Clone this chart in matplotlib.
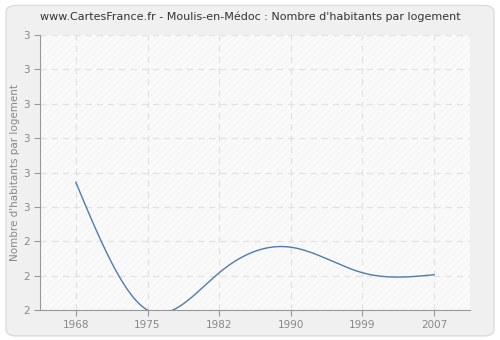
import matplotlib
matplotlib.use("Agg")
import matplotlib.pyplot as plt
from matplotlib.patches import FancyBboxPatch, Rectangle
import numpy as np

# Values
years = ["1968", "1975", "1982", "1990", "1999", "2007"]
habitants = [2.65, 2.0, 2.19, 2.32, 2.19, 2.18]
y_ticks = [2.0, 2.175, 2.35, 2.525, 2.7, 2.875, 3.05, 3.225, 3.4]

title = "www.CartesFrance.fr - Moulis-en-Médoc : Nombre d'habitants par logement"
ylabel = "Nombre d'habitants par logement"


def natural_spline(x, y, n=400):
    # smooth curve through the points (natural cubic spline)
    x = np.asarray(x, float)
    y = np.asarray(y, float)
    k = len(x)
    h = np.diff(x)
    A = np.zeros((k, k))
    b = np.zeros(k)
    A[0, 0] = A[-1, -1] = 1
    for i in range(1, k - 1):
        A[i, i - 1] = h[i - 1]
        A[i, i] = 2 * (h[i - 1] + h[i])
        A[i, i + 1] = h[i]
        b[i] = 6 * ((y[i + 1] - y[i]) / h[i] - (y[i] - y[i - 1]) / h[i - 1])
    M = np.linalg.solve(A, b)
    xs = np.linspace(x[0], x[-1], n)
    idx = np.clip(np.searchsorted(x, xs) - 1, 0, k - 2)
    x0, x1 = x[idx], x[idx + 1]
    hh = x1 - x0
    t0, t1 = x1 - xs, xs - x0
    ys = (M[idx] * t0 ** 3 + M[idx + 1] * t1 ** 3) / (6 * hh) \
        + (y[idx] / hh - M[idx] * hh / 6) * t0 \
        + (y[idx + 1] / hh - M[idx + 1] * hh / 6) * t1
    return xs, ys


plt.rcParams['hatch.linewidth'] = 0.4
fig = plt.figure(figsize=(5, 3.4), dpi=100, facecolor='white')

# outer rounded frame
frame = FancyBboxPatch((0.012, 0.012), 0.976, 0.972, boxstyle="round,pad=0,rounding_size=0.02",
                       transform=fig.transFigure, facecolor='#f0f0f0', edgecolor='#dcdcdc',
                       linewidth=1, zorder=-5)
fig.patches.append(frame)

ax = fig.add_axes([0.08, 0.088, 0.86, 0.809])
ax.set_zorder(2)
ax.set_facecolor('#fafafa')
ax.add_patch(Rectangle((0, 0), 1, 1, transform=ax.transAxes, facecolor='none',
                       edgecolor='#efefef', hatch='/////', linewidth=0, zorder=0))

x = np.arange(len(years))
xs, ys = natural_spline(x, habitants)
ax.plot(xs, ys, color='#4f7cac', linewidth=1, zorder=3, clip_on=True)

ax.set_xlim(-0.5, len(years) - 0.5)
ax.set_ylim(y_ticks[0], y_ticks[-1])
ax.set_xticks(x)
ax.set_xticklabels(years)
ax.set_yticks(y_ticks)
ax.set_yticklabels([f"{v:.0f}" for v in y_ticks])

ax.grid(True, color='#e2e2e2', linestyle=(0, (5, 4)), linewidth=0.9, zorder=1)
ax.set_axisbelow(True)
for s in ['top', 'right']:
    ax.spines[s].set_visible(False)
for s in ['left', 'bottom']:
    ax.spines[s].set_color('#999999')
ax.tick_params(colors='#999999', labelcolor='#888888', labelsize=7.5, length=4, width=0.8)

ax.set_ylabel(ylabel, color='#888888', fontsize=7.5, labelpad=2)
fig.text(0.5, 0.95, title, ha='center', va='center', fontsize=8, color='#333333')

fig.savefig("out.png", dpi=100)
